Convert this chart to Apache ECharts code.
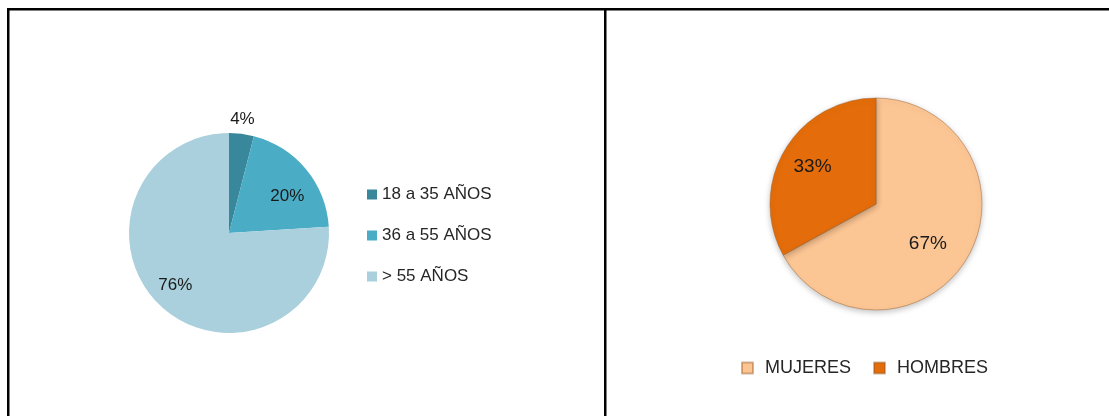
<!DOCTYPE html>
<html>
<head>
<meta charset="utf-8">
<script src="https://cdn.jsdelivr.net/npm/echarts@6/dist/echarts.min.js"></script>
<style>
  html, body { margin: 0; padding: 0; background: #fff; }
  #main { width: 1109px; height: 416px; }
</style>
</head>
<body>
<div id="main"></div>
<script>
    // edades
    var edadNames = ['18 a 35 AÑOS', '36 a 55 AÑOS', '> 55 AÑOS']
    var edadValues = [4, 20, 76]
    // sexo
    var sexoNames = ['MUJERES', 'HOMBRES']
    var sexoValues = [67, 33]

    var leftCenter = [229, 233]
    var rightCenter = [876, 204]
    // how far out each label sits (fraction of radius) + small nudge in px
    var leftReach = [1.16, 0.69, 0.74]
    var leftNudge = [[-2, 8], [2, 10], [0, -5]]
    var rightReach = [0.6, 0.71]
    var rightNudge = [[-6, 6], [5, 3]]

    function pushOut (center, reach, nudge) {
        return function (p) {
            var r = p.labelRect
            var vx = r.x + r.width / 2 - center[0]
            var vy = r.y + r.height / 2 - center[1]
            var k = 2 * reach[p.dataIndex] - 1
            var n = nudge[p.dataIndex]
            return { dx: vx * k + n[0], dy: vy * k + n[1] }
        }
    }

    var myChart = echarts.init(document.getElementById('main'))
    var option = {
        animation: false,
        textStyle: { fontFamily: 'Liberation Sans, Arial, sans-serif' },
        graphic: [
            { type: 'rect', shape: { x: 7, y: 8, width: 1102, height: 2.5 }, style: { fill: '#000' } },
            { type: 'rect', shape: { x: 7, y: 8, width: 2.5, height: 408 }, style: { fill: '#000' } },
            { type: 'rect', shape: { x: 604, y: 8, width: 2.5, height: 408 }, style: { fill: '#000' } }
        ],
        color: ['#38879b', '#4bacc6', '#a9d0dc'],
        legend: [{
            data: edadNames,
            orient: 'vertical',
            left: 362,
            top: 181,
            itemGap: 24,
            itemWidth: 10,
            itemHeight: 10,
            icon: 'rect',
            textStyle: { fontSize: 17, color: '#262626', fontFamily: 'Liberation Sans' }
        }, {
            data: sexoNames,
            orient: 'horizontal',
            left: 736,
            top: 354,
            itemGap: 22,
            itemWidth: 11,
            itemHeight: 11,
            icon: 'rect',
            textStyle: { fontSize: 18, color: '#262626', fontFamily: 'Liberation Sans', padding: [0, 0, 0, 7] }
        }],
        series: [{
            name: 'Edad',
            type: 'pie',
            center: leftCenter,
            radius: [0, 100],
            startAngle: 90,
            clockwise: true,
            avoidLabelOverlap: false,
            label: {
                show: true,
                position: 'inside',
                formatter: '{d}%',
                fontSize: 17,
                color: '#1a1a1a',
                fontFamily: 'Liberation Sans'
            },
            labelLine: { show: false },
            labelLayout: pushOut(leftCenter, leftReach, leftNudge),
            emphasis: { disabled: true },
            data: edadNames.map(function (n, i) { return { name: n, value: edadValues[i] } })
        }, {
            name: 'Sexo',
            type: 'pie',
            center: rightCenter,
            radius: [0, 106],
            startAngle: 90,
            clockwise: true,
            avoidLabelOverlap: false,
            itemStyle: {
                borderColor: 'rgba(150,90,40,0.45)',
                borderWidth: 1,
                shadowBlur: 6,
                shadowOffsetY: 2,
                shadowColor: 'rgba(0,0,0,0.25)'
            },
            label: {
                show: true,
                position: 'inside',
                formatter: '{d}%',
                fontSize: 19,
                color: '#1a1a1a',
                fontFamily: 'Liberation Sans'
            },
            labelLine: { show: false },
            labelLayout: pushOut(rightCenter, rightReach, rightNudge),
            emphasis: { disabled: true },
            data: [
                { name: sexoNames[0], value: sexoValues[0], itemStyle: { color: '#fbc594' } },
                { name: sexoNames[1], value: sexoValues[1], itemStyle: { color: '#e46c0a' } }
            ]
        }]
    }
    myChart.setOption(option)
</script>
</body>
</html>
